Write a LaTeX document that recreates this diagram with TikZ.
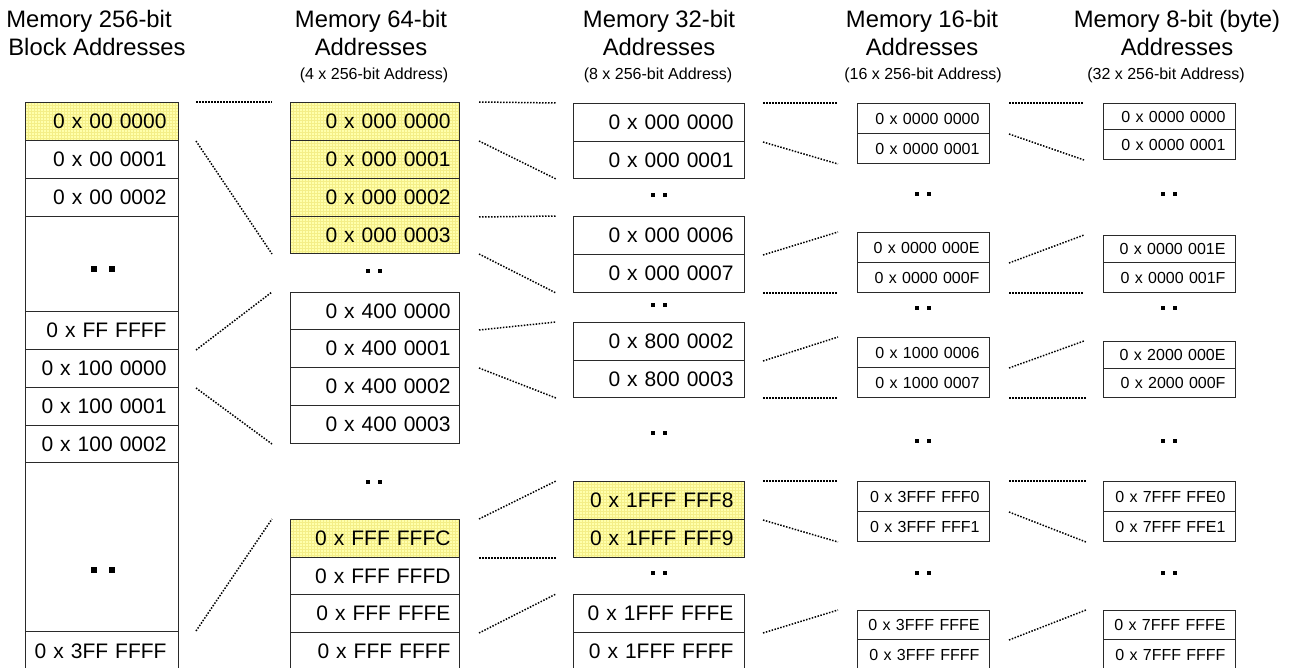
\documentclass[tikz,border=0pt]{standalone}
\usepackage{fontspec}
\setmainfont{Liberation Sans}
\definecolor{hlfill}{HTML}{FFFFAC}
\definecolor{hlgrid}{HTML}{F4EE88}
\definecolor{edge}{HTML}{2A2A2A}
\newcommand{\dotpair}[4]{% centre x, centre y, half gap, square size
  \fill[black] (#1-#3-#4/2,#2-#4/2) rectangle ++(#4,#4);
  \fill[black] (#1+#3-#4/2,#2-#4/2) rectangle ++(#4,#4);}
\tikzset{
  pad/.style={execute at begin node={\leftskip=0pt plus 1fill\relax
      \rightskip=#1pt\relax\parfillskip=0pt\relax}},
  cell/.style={draw=edge, line width=1pt, anchor=north west, inner ysep=0pt,
    inner xsep=0pt, minimum height=38pt},
  big/.style={cell, font=\fontsize{21}{21}\selectfont},
  small/.style={cell, font=\fontsize{16}{16}\selectfont, text width=132pt, pad=10},
  wa/.style={text width=153pt, pad=12},
  wb/.style={text width=169pt, pad=9},
  wc/.style={text width=171pt, pad=11},
  hl/.style={fill=hlfill, path picture={\draw[hlgrid, line width=0.35pt]
    ([shift={(-3pt,-3pt)}]path picture bounding box.south west) grid[step=3pt]
    ([shift={(3pt,3pt)}]path picture bounding box.north east);}},
  head/.style={anchor=base, font=\fontsize{23.8}{29}\selectfont},
  sub/.style={anchor=base, font=\fontsize{16}{19}\selectfont},
  conn/.style={draw=black, line width=1.5pt, dash pattern=on 1.5pt off 1.5pt},
}
\begin{document}
\begin{tikzpicture}[x=1pt,y=-1pt]
\useasboundingbox (0,0) rectangle (1300,668);

% column headings
\node[head] (t1a) at (89,28) {Memory 256-bit};
\node[head] (t1b) at (97,56) {Block Addresses};
\node[head] (t2a) at (371,28) {Memory 64-bit};
\node[head] (t2b) at (371,56) {Addresses};
\node[sub]  (t2c) at (374,80) {(4 x 256-bit Address)};
\node[head] (t3a) at (659,28) {Memory 32-bit};
\node[head] (t3b) at (659,56) {Addresses};
\node[sub]  (t3c) at (658,80) {(8 x 256-bit Address)};
\node[head] (t4a) at (922,28) {Memory 16-bit};
\node[head] (t4b) at (922,56) {Addresses};
\node[sub]  (t4c) at (923,80) {(16 x 256-bit Address)};
\node[head] (t5a) at (1177,28) {Memory 8-bit (byte)};
\node[head] (t5b) at (1177,56) {Addresses};
\node[sub]  (t5c) at (1166,80) {(32 x 256-bit Address)};

% 256-bit blocks
\node[big,wa,hl] (c1r0) at (25,102) {0 x 00 0000};
\node[big,wa] (c1r1) at (25,140) {0 x 00 0001};
\node[big,wa] (c1r2) at (25,178) {0 x 00 0002};
\node[big,wa,minimum height=95pt] (c1r3) at (25,216) {};
\node[big,wa] (c1r4) at (25,311) {0 x FF FFFF};
\node[big,wa] (c1r5) at (25,349) {0 x 100 0000};
\node[big,wa] (c1r6) at (25,387) {0 x 100 0001};
\node[big,wa,minimum height=37pt] (c1r7) at (25,425) {0 x 100 0002};
\node[big,wa,minimum height=169pt] (c1r8) at (25,462) {};
\node[big,wa,minimum height=40pt] (c1r9) at (25,631) {0 x 3FF FFFF};
\dotpair{103}{269}{9}{6}
\dotpair{103}{570}{9}{6}

% 64-bit words
\node[big,wb,hl] (c2a0) at (290,102) {0 x 000 0000};
\node[big,wb,hl] (c2a1) at (290,140) {0 x 000 0001};
\node[big,wb,hl] (c2a2) at (290,178) {0 x 000 0002};
\node[big,wb,hl,minimum height=37pt] (c2a3) at (290,216) {0 x 000 0003};
\node[big,wb,minimum height=37pt] (c2b0) at (290,292) {0 x 400 0000};
\node[big,wb] (c2b1) at (290,329) {0 x 400 0001};
\node[big,wb] (c2b2) at (290,367) {0 x 400 0002};
\node[big,wb] (c2b3) at (290,405) {0 x 400 0003};
\node[big,wb,hl] (c2c0) at (290,519) {0 x FFF FFFC};
\node[big,wb,minimum height=37pt] (c2c1) at (290,557) {0 x FFF FFFD};
\node[big,wb] (c2c2) at (290,594) {0 x FFF FFFE};
\node[big,wb] (c2c3) at (290,632) {0 x FFF FFFF};
\dotpair{374}{271}{5.75}{4}
\dotpair{374}{482}{5.75}{4}

% 32-bit words
\node[big,wc] (c3a0) at (573,103) {0 x 000 0000};
\node[big,wc,minimum height=37pt] (c3a1) at (573,141) {0 x 000 0001};
\node[big,wc] (c3b0) at (573,216) {0 x 000 0006};
\node[big,wc] (c3b1) at (573,254) {0 x 000 0007};
\node[big,wc] (c3c0) at (573,322) {0 x 800 0002};
\node[big,wc,minimum height=37pt] (c3c1) at (573,360) {0 x 800 0003};
\node[big,wc,hl] (c3d0) at (573,481) {0 x 1FFF FFF8};
\node[big,wc,hl] (c3d1) at (573,519) {0 x 1FFF FFF9};
\node[big,wc] (c3e0) at (573,594) {0 x 1FFF FFFE};
\node[big,wc] (c3e1) at (573,632) {0 x 1FFF FFFF};
\dotpair{659}{195}{5.75}{4}
\dotpair{659}{305}{5.75}{4}
\dotpair{659}{433}{5.75}{4}
\dotpair{659}{573}{5.75}{4}

% 16-bit words
\node[small,minimum height=30pt] (c4a0) at (857,103) {0 x 0000 0000};
\node[small,minimum height=30pt] (c4a1) at (857,133) {0 x 0000 0001};
\node[small,minimum height=30pt] (c4b0) at (857,232) {0 x 0000 000E};
\node[small,minimum height=30pt] (c4b1) at (857,262) {0 x 0000 000F};
\node[small,minimum height=30pt] (c4c0) at (857,337) {0 x 1000 0006};
\node[small,minimum height=30pt] (c4c1) at (857,367) {0 x 1000 0007};
\node[small,minimum height=30pt] (c4d0) at (857,481) {0 x 3FFF FFF0};
\node[small,minimum height=30pt] (c4d1) at (857,511) {0 x 3FFF FFF1};
\node[small,minimum height=29pt] (c4e0) at (857,610) {0 x 3FFF FFFE};
\node[small,minimum height=30pt] (c4e1) at (857,639) {0 x 3FFF FFFF};
\dotpair{923}{194}{5.75}{4}
\dotpair{923}{308}{5.75}{4}
\dotpair{923}{441}{5.75}{4}
\dotpair{923}{573}{5.75}{4}

% 8-bit words
\node[small,minimum height=26pt] (c5a0) at (1103,103) {0 x 0000 0000};
\node[small,minimum height=30pt] (c5a1) at (1103,129) {0 x 0000 0001};
\node[small,minimum height=27pt] (c5b0) at (1103,235) {0 x 0000 001E};
\node[small,minimum height=30pt] (c5b1) at (1103,262) {0 x 0000 001F};
\node[small,minimum height=27pt] (c5c0) at (1103,341) {0 x 2000 000E};
\node[small,minimum height=29pt] (c5c1) at (1103,368) {0 x 2000 000F};
\node[small,minimum height=30pt] (c5d0) at (1103,481) {0 x 7FFF FFE0};
\node[small,minimum height=30pt] (c5d1) at (1103,511) {0 x 7FFF FFE1};
\node[small,minimum height=29pt] (c5e0) at (1103,610) {0 x 7FFF FFFE};
\node[small,minimum height=30pt] (c5e1) at (1103,639) {0 x 7FFF FFFF};
\dotpair{1169}{194}{5.75}{4}
\dotpair{1169}{308}{5.75}{4}
\dotpair{1169}{441}{5.75}{4}
\dotpair{1169}{573}{5.75}{4}

% expansion guides: 256-bit -> 64-bit
\draw[conn] ([xshift=17pt]c1r0.north east) -- ([xshift=-18pt]c2a0.north west);
\draw[conn] ([xshift=17pt]c1r0.south east) -- ([xshift=-18pt]c2a3.south west);
\draw[conn] ([xshift=17pt]c1r4.south east) -- ([xshift=-18pt]c2b0.north west);
\draw[conn] ([xshift=17pt]c1r5.south east) -- ([xshift=-18pt]c2b3.south west);
\draw[conn] ([xshift=17pt]c1r9.north east) -- ([xshift=-18pt]c2c0.north west);

% 64-bit -> 32-bit
\draw[conn] ([xshift=19pt]c2a0.north east) -- ([xshift=-17pt]c3a0.north west);
\draw[conn] ([xshift=19pt]c2a0.south east) -- ([xshift=-17pt]c3a1.south west);
\draw[conn] ([xshift=19pt]c2a2.south east) -- ([xshift=-17pt]c3b0.north west);
\draw[conn] ([xshift=19pt]c2a3.south east) -- ([xshift=-17pt]c3b1.south west);
\draw[conn] ([xshift=19pt]c2b0.south east) -- ([xshift=-17pt]c3c0.north west);
\draw[conn] ([xshift=19pt]c2b1.south east) -- ([xshift=-17pt]c3c1.south west);
\draw[conn] ([xshift=19pt]c2c0.north east) -- ([xshift=-17pt]c3d0.north west);
\draw[conn] ([xshift=19pt]c2c0.south east) -- ([xshift=-17pt]c3d1.south west);
\draw[conn] ([xshift=19pt]c2c2.south east) -- ([xshift=-17pt]c3e0.north west);

% 32-bit -> 16-bit
\draw[conn] ([xshift=18pt]c3a0.north east) -- ([xshift=-19pt]c4a0.north west);
\draw[conn] ([xshift=18pt]c3a0.south east) -- ([xshift=-19pt]c4a1.south west);
\draw[conn] ([xshift=18pt]c3b0.south east) -- ([xshift=-19pt]c4b0.north west);
\draw[conn] ([xshift=18pt]c3b1.south east) -- ([xshift=-19pt]c4b1.south west);
\draw[conn] ([xshift=18pt]c3c0.south east) -- ([xshift=-19pt]c4c0.north west);
\draw[conn] ([xshift=18pt]c3c1.south east) -- ([xshift=-19pt]c4c1.south west);
\draw[conn] ([xshift=18pt]c3d0.north east) -- ([xshift=-19pt]c4d0.north west);
\draw[conn] ([xshift=18pt]c3d0.south east) -- ([xshift=-19pt]c4d1.south west);
\draw[conn] ([xshift=18pt]c3e0.south east) -- ([xshift=-19pt]c4e0.north west);

% 16-bit -> 8-bit
\draw[conn] ([xshift=19pt]c4a0.north east) -- ([xshift=-19pt]c5a0.north west);
\draw[conn] ([xshift=19pt]c4a0.south east) -- ([xshift=-19pt]c5a1.south west);
\draw[conn] ([xshift=19pt]c4b0.south east) -- ([xshift=-19pt]c5b0.north west);
\draw[conn] ([xshift=19pt]c4b1.south east) -- ([xshift=-19pt]c5b1.south west);
\draw[conn] ([xshift=19pt]c4c0.south east) -- ([xshift=-19pt]c5c0.north west);
\draw[conn] ([xshift=19pt]c4c1.south east) -- ([xshift=-17pt]c5c1.south west);
\draw[conn] ([xshift=19pt]c4d0.north east) -- ([xshift=-17pt]c5d0.north west);
\draw[conn] ([xshift=19pt]c4d0.south east) -- ([xshift=-17pt]c5d1.south west);
\draw[conn] ([xshift=19pt]c4e0.south east) -- ([xshift=-17pt]c5e0.north west);
\end{tikzpicture}
\end{document}
